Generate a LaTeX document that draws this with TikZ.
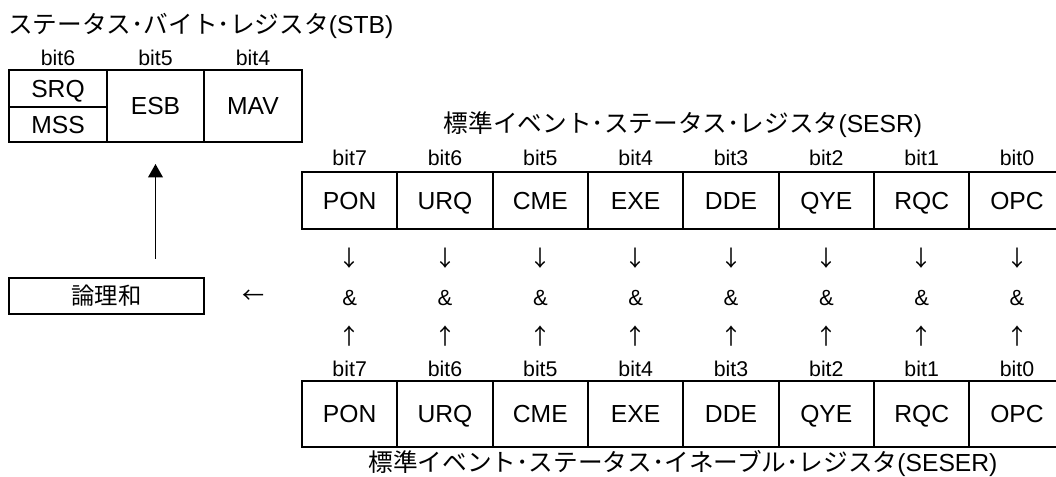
\documentclass[tikz,border=0pt]{standalone}
\usepackage{fontspec}
\setmainfont{Liberation Sans}
\newfontfamily\jp{Noto Sans CJK JP}
\usetikzlibrary{arrows.meta,calc}
\begin{document}
\begin{tikzpicture}[x=0.75pt,y=-0.75pt,
  cell/.style={draw, line width=1.5pt, minimum width=71.5pt, inner sep=0pt,
    text height=13.2pt, text depth=0pt,
    font=\fontsize{18.5}{20}\selectfont},
  bitlbl/.style={inner sep=0pt, font=\fontsize{16}{18}\selectfont},
  sym/.style={inner sep=0pt, font=\fontsize{16.5}{18}\selectfont},
  asym/.style={inner sep=0pt, font=\jp\fontsize{16.5}{18}\selectfont},
  ttl/.style={inner sep=0pt, font=\fontsize{18.5}{20}\selectfont},
  arr/.style={line width=1pt, -{Triangle[width=11pt,length=10pt]}}]
\useasboundingbox (0,0) rectangle (1056,477);
% STB
\node[ttl, anchor=west] (stbt) at (8,26) {{\jp ステータス･バイト･レジスタ}(STB)};
\node[bitlbl] (sb6) at (58,57.5) {bit6};
\node[bitlbl] (sb5) at (155.5,57.5) {bit5};
\node[bitlbl] (sb4) at (253,57.5) {bit4};
\node[cell, minimum width=73.5pt, minimum height=27.75pt] (srq) at (58,88.5) {SRQ};
\node[cell, minimum width=73.5pt, minimum height=26.25pt] (mss) at (58,124.5) {MSS};
\node[cell, minimum width=72.75pt, minimum height=54pt] (esb) at (155.5,106) {ESB};
\node[cell, minimum width=73.5pt, minimum height=54pt] (mav) at (253,106) {MAV};
% OR box
\node[cell, minimum width=146.25pt, minimum height=27pt, text height=14pt, text depth=2pt,
  font=\jp\fontsize{17.5}{19}\selectfont] (orbox) at (106.5,296) {論理和};
\node[asym] (left) at (253,297) {←};
\draw[arr] ($(esb.south |- orbox.north)+(0,-18)$) -- ($(esb.south)+(0,21)$);
% SESR / SESER
\node[ttl] (sesrt) at (683,125) {{\jp 標準イベント･ステータス･レジスタ}(SESR)};
\node[ttl] (sesert) at (683,463) {{\jp 標準イベント･ステータス･イネーブル･レジスタ}(SESER)};
\foreach \n/\b [count=\i from 0] in {PON/7,URQ/6,CME/5,EXE/4,DDE/3,QYE/2,RQC/1,OPC/0} {
  \pgfmathsetmacro\cx{302+95.3333*(\i+0.5)}
  \node[bitlbl] (rb\i) at (\cx,157.5) {bit\b};
  \node[cell, minimum height=42.75pt] (r\i) at (\cx,200.5) {\n};
  \node[asym] (dn\i) at (\cx,258) {↓};
  \node[sym] (and\i) at (\cx,298) {\&};
  \node[asym] (up\i) at (\cx,336) {↑};
  \node[bitlbl] (eb\i) at (\cx,368.5) {bit\b};
  \node[cell, minimum height=49.5pt] (e\i) at (\cx,414) {\n};
}
\end{tikzpicture}
\end{document}
